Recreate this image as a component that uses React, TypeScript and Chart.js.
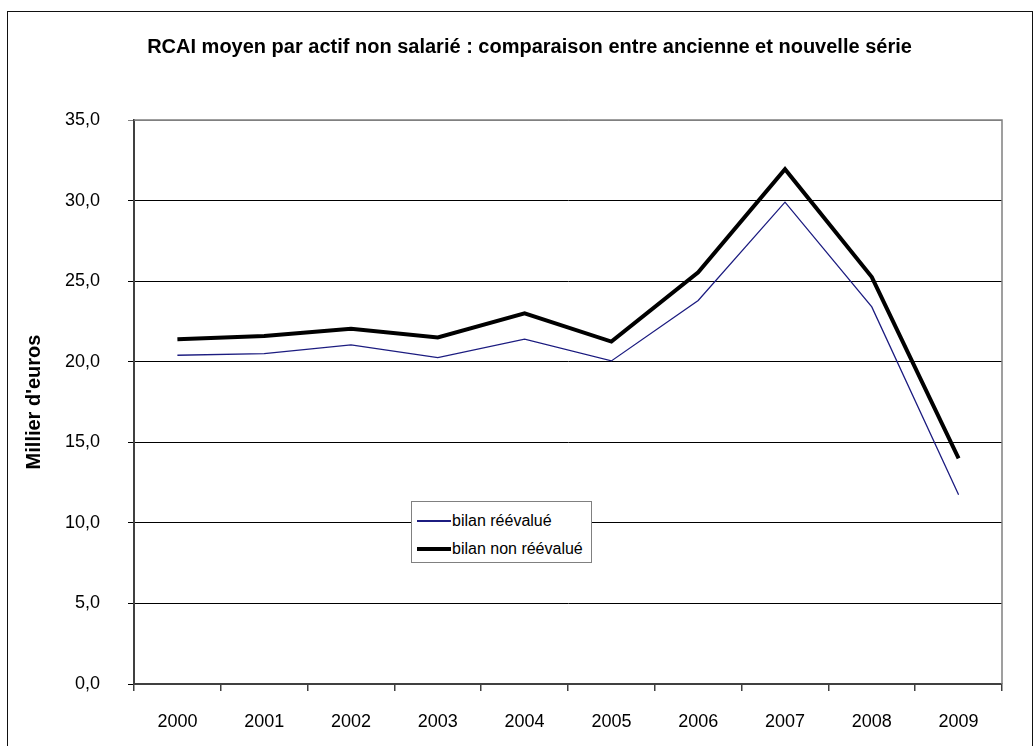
import React, { useEffect, useRef } from "react";
import { Chart, registerables } from "chart.js";

Chart.register(...registerables);

const TITLE = "RCAI moyen par actif non salarié : comparaison entre ancienne et nouvelle série";
const Y_TITLE = "Millier d'euros";
const YEARS = ["2000", "2001", "2002", "2003", "2004", "2005", "2006", "2007", "2008", "2009"];
const REEVALUE = [20.4, 20.5, 21.05, 20.25, 21.4, 20.05, 23.8, 29.9, 23.4, 11.75];
const NON_REEVALUE = [21.4, 21.6, 22.05, 21.5, 23.0, 21.25, 25.55, 31.95, 25.25, 14.0];
const LABEL_A = "bilan réévalué";
const LABEL_B = "bilan non réévalué";

const FONT = "'Liberation Sans', Arial, sans-serif";

const plotBorder = {
  id: "plotBorder",
  beforeDatasetsDraw(chart: any) {
    const { ctx, chartArea } = chart;
    ctx.save();
    ctx.strokeStyle = "#808080";
    ctx.lineWidth = 1.5;
    ctx.beginPath();
    ctx.moveTo(chartArea.left, chartArea.top);
    ctx.lineTo(chartArea.right, chartArea.top);
    ctx.lineTo(chartArea.right, chartArea.bottom);
    ctx.stroke();
    ctx.restore();
  },
};

export default function App() {
  const ref = useRef<HTMLCanvasElement | null>(null);

  useEffect(() => {
    if (!ref.current) return;
    const chart = new Chart(ref.current, {
      type: "line",
      data: {
        labels: YEARS,
        datasets: [
          {
            label: LABEL_A,
            data: REEVALUE,
            borderColor: "#1c1c80",
            borderWidth: 1.3,
            pointRadius: 0,
            tension: 0,
          },
          {
            label: LABEL_B,
            data: NON_REEVALUE,
            borderColor: "#000000",
            borderWidth: 4,
            pointRadius: 0,
            tension: 0,
          },
        ],
      },
      options: {
        responsive: false,
        animation: false,
        devicePixelRatio: 1,
        layout: { padding: { left: 57, right: 33, top: 20, bottom: 0 } },
        plugins: {
          legend: { display: false },
          tooltip: { enabled: false },
          title: {
            display: true,
            text: TITLE,
            color: "#000",
            font: { family: FONT, size: 20, weight: "bold" },
            padding: { top: 15, bottom: 61 },
          },
        },
        scales: {
          x: {
            offset: true,
            grid: {
              display: true,
              offset: true,
              drawOnChartArea: false,
              drawTicks: true,
              tickLength: 7,
              color: "#404040",
              lineWidth: 1.5,
            },
            border: { display: true, color: "#404040", width: 2 },
            ticks: {
              color: "#000",
              font: { family: FONT, size: 18 },
              padding: 20,
              maxRotation: 0,
            },
            afterFit(scale: any) {
              scale.height = 62;
            },
          },
          y: {
            min: 0,
            max: 35,
            grid: {
              color: (c: any) => (c.tick && c.tick.value === 35 ? "#808080" : "#000000"),
              lineWidth: 1,
              tickLength: 6,
              drawTicks: true,
            },
            border: { display: true, color: "#404040", width: 2 },
            ticks: {
              stepSize: 5,
              color: "#000",
              font: { family: FONT, size: 18 },
              padding: 28,
              callback: (v: any) => Number(v).toFixed(1).replace(".", ","),
            },
            title: {
              display: true,
              text: Y_TITLE,
              color: "#000",
              font: { family: FONT, size: 20, weight: "bold" },
              padding: { top: -35, bottom: 0 },
            },
            afterFit(scale: any) {
              scale.width = 77;
            },
          },
        },
      },
      plugins: [plotBorder],
    } as any);
    return () => chart.destroy();
  }, []);

  const legendLine = (color: string, h: number) => (
    <span style={{ display: "inline-block", width: 34, height: h, background: color, verticalAlign: "middle", marginRight: 1 }} />
  );

  return (
    <div style={{ position: "absolute", left: 0, top: 0, width: 1035, height: 746, overflow: "hidden", background: "#fff" }}>
      <div
        style={{
          position: "absolute",
          left: 7,
          top: 11,
          width: 1026,
          height: 800,
          border: "1.5px solid #111",
          boxSizing: "border-box",
        }}
      />
      <canvas ref={ref} width={1035} height={746} style={{ position: "absolute", left: 0, top: 0, width: 1035, height: 746 }} />
      <div
        style={{
          position: "absolute",
          left: 411,
          top: 501,
          width: 181,
          height: 62,
          boxSizing: "border-box",
          border: "1px solid #808080",
          background: "#fff",
          fontFamily: FONT,
          fontSize: 16,
          color: "#000",
          padding: "4px 0 0 5px",
        }}
      >
        <div style={{ height: 28, lineHeight: "28px", whiteSpace: "nowrap" }}>
          {legendLine("#1c1c80", 1.5)}
          <span style={{ verticalAlign: "middle" }}>{LABEL_A}</span>
        </div>
        <div style={{ height: 28, lineHeight: "28px", whiteSpace: "nowrap" }}>
          {legendLine("#000", 4)}
          <span style={{ verticalAlign: "middle" }}>{LABEL_B}</span>
        </div>
      </div>
    </div>
  );
}
